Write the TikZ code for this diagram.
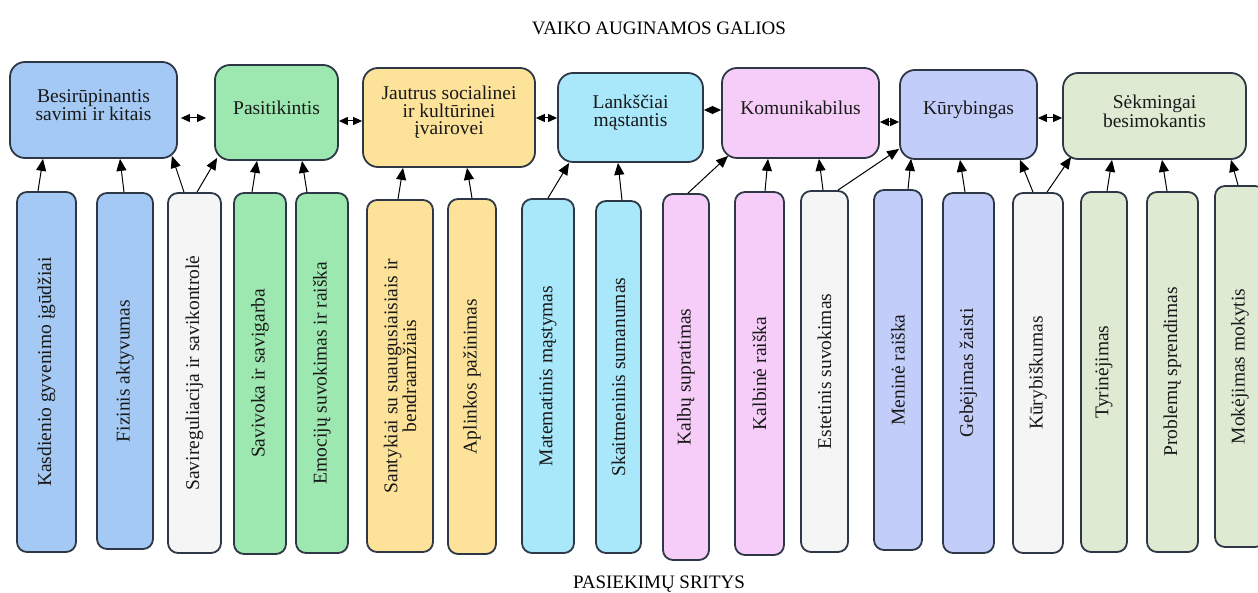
\documentclass[tikz,border=0pt]{standalone}
\usepackage{fontspec}
\setmainfont{Liberation Serif}
\usetikzlibrary{arrows.meta,calc}
\definecolor{cblue}{RGB}{164,201,244}
\definecolor{cgreen}{RGB}{157,232,176}
\definecolor{cyellow}{RGB}{253,226,154}
\definecolor{ccyan}{RGB}{168,232,250}
\definecolor{cpink}{RGB}{245,205,248}
\definecolor{cperi}{RGB}{195,205,250}
\definecolor{csage}{RGB}{223,234,211}
\definecolor{cgray}{RGB}{245,245,245}
\definecolor{edgec}{RGB}{45,55,70}
\newcommand\topb[7]{\node[topbox, fill=#6, minimum width=#4pt, minimum height=#5pt] (#1) at (#2,#3) {};
  \node[lbl] (#1l) at ([yshift=5pt]#1.center) {#7};}
\newcommand\botb[7]{\node[botbox, fill=#6, minimum width=#4pt, minimum height=#5pt] (#1) at (#2,#3) {};
  \node[vlbl] (#1l) at (#1.center) {#7};}
\begin{document}
\begin{tikzpicture}[x=1pt,y=-1pt,
  topbox/.style={draw=edgec, line width=1.8pt, rounded corners=15pt, inner sep=0pt},
  botbox/.style={draw=edgec, line width=1.8pt, rounded corners=10pt, inner sep=0pt},
  lbl/.style={font=\fontsize{19.5}{17.5}\selectfont, align=center, inner sep=0pt, text=black!90},
  vlbl/.style={lbl, rotate=90},
  arr/.style={-{Triangle[length=12pt,width=10pt]}, line width=1pt},
  darr/.style={{Triangle[length=9pt,width=8pt]}-{Triangle[length=9pt,width=8pt]}, line width=1pt},
  title/.style={font=\fontsize{19}{22}\selectfont, inner sep=0pt}]
\fill[white] (0,0) rectangle (1258,593);
\useasboundingbox (0,0) rectangle (1258,593);

\node[title] (ttop) at (659,28) {VAIKO AUGINAMOS GALIOS};
\node[title] (tbot) at (659,584) {PASIEKIMŲ SRITYS};

% top row
\topb{T1}{93.5}{110}{167}{96}{cblue}{Besirūpinantis\\savimi ir kitais}
\topb{T2}{276.5}{112.5}{123}{95}{cgreen}{Pasitikintis}
\topb{T3}{449}{117.5}{172}{99}{cyellow}{Jautrus socialinei\\ir kultūrinei\\įvairovei}
\topb{T4}{630.5}{117.5}{145}{89}{ccyan}{Lankščiai\\mąstantis}
\topb{T5}{800.5}{113}{157}{90}{cpink}{Komunikabilus}
\topb{T6}{968.5}{114.5}{137}{89}{cperi}{Kūrybingas}
\topb{T7}{1154.5}{116}{183}{86}{csage}{Sėkmingai\\besimokantis}

% bottom row
\botb{B1}{46.5}{372}{59}{360}{cblue}{Kasdienio gyvenimo įgūdžiai}
\botb{B2}{125}{371}{56}{356}{cblue}{Fizinis aktyvumas}
\botb{B3}{194.5}{373}{53}{360}{cgray}{Savireguliacija ir savikontrolė}
\botb{B4}{260}{373.5}{52}{361}{cgreen}{Savivoka ir savigarba}
\botb{B5}{322}{373}{52}{360}{cgreen}{Emocijų suvokimas ir raiška}
\botb{B6}{400}{376}{66}{352}{cyellow}{Santykiai su suaugusiaisiais ir\\bendraamžiais}
\botb{B7}{472}{376.5}{48}{355}{cyellow}{Aplinkos pažinimas}
\botb{B8}{548}{376}{52}{354}{ccyan}{Matematinis mąstymas}
\botb{B9}{618.5}{377}{45}{352}{ccyan}{Skaitmeninis sumanumas}
\botb{B10}{686}{377}{46}{366}{cpink}{Kalbų supratimas}
\botb{B11}{759.5}{373.5}{49}{363}{cpink}{Kalbinė raiška}
\botb{B12}{824.5}{371.5}{47}{361}{cgray}{Estetinis suvokimas}
\botb{B13}{898}{370}{48}{360}{cperi}{Meninė raiška}
\botb{B14}{968.5}{373}{51}{360}{cperi}{Gebėjimas žaisti}
\botb{B15}{1038}{373}{50}{360}{cgray}{Kūrybiškumas}
\botb{B16}{1104}{372}{46}{360}{csage}{Tyrinėjimas}
\botb{B17}{1172.5}{372}{51}{360}{csage}{Problemų sprendimas}
\botb{B18}{1240}{366.5}{50}{361}{csage}{Mokėjimas mokytis}

% vertical arrows
\draw[arr] ([xshift=-8.5pt]B1.north) -- ([xshift=-50.5pt]T1.south);
\draw[arr] ([xshift=-1pt]B2.north) -- ([xshift=26.5pt]T1.south);
\draw[arr] ([xshift=-10.5pt]B3.north) -- ($(T1.south east)+(-6,-3)$);
\draw[arr] ([xshift=2.5pt]B3.north) -- ($(T2.south west)+(3,-3)$);
\draw[arr] ([xshift=-8pt]B4.north) -- ([xshift=-19.5pt]T2.south);
\draw[arr] ([xshift=-15pt]B5.north) -- ([xshift=25.5pt]T2.south);
\draw[arr] ([xshift=-2pt]B6.north) -- ([xshift=-46pt]T3.south);
\draw[arr] (B7.north) -- ([xshift=18pt]T3.south);
\draw[arr] (B8.north) -- ($(T4.south west)+(12,0)$);
\draw[arr] ([xshift=3.5pt]B9.north) -- ([xshift=-12.5pt]T4.south);
\draw[arr] ([xshift=2pt]B10.north) -- ($(T5.south west)+(7,-3)$);
\draw[arr] ([xshift=5.5pt]B11.north) -- ([xshift=-32.5pt]T5.south);
\draw[arr] ([xshift=-1.5pt]B12.north) -- ([xshift=18.5pt]T5.south);
\draw[arr] ([xshift=13.5pt]B12.north) -- ($(T6.south west)+(0,-11)$);
\draw[arr] ([xshift=10pt]B13.north) -- ($(T6.south west)+(12,-1)$);
\draw[arr] ([xshift=-3.5pt]B14.north) -- ([xshift=-8.5pt]T6.south);
\draw[arr] ([xshift=-5pt]B15.north) -- ([xshift=51.5pt]T6.south);
\draw[arr] ([xshift=9pt]B15.north) -- ($(T7.south west)+(9,-3)$);
\draw[arr] ([xshift=3pt]B16.north) -- ([xshift=-42.5pt]T7.south);
\draw[arr] ([xshift=-5.5pt]B17.north) -- ([xshift=7.5pt]T7.south);
\draw[arr] ([xshift=-2pt]B18.north) -- ([xshift=76.5pt]T7.south);

% horizontal double arrows
\coordinate (h1) at ($(T1.east)+(0,8)$);
\coordinate (h2) at ($(T2.east)+(0,8.5)$);
\coordinate (h3) at ($(T3.east)+(0,0.5)$);
\coordinate (h4) at ($(T4.east)+(0,-7.5)$);
\coordinate (h5) at ($(T5.east)+(0,9)$);
\coordinate (h6) at ($(T6.east)+(0,3.5)$);
\draw[darr, shorten <=3pt, shorten >=8pt] (h1) -- (h1 -| T2.west);
\draw[darr] (h2) -- (h2 -| T3.west);
\draw[darr] (h3) -- (h3 -| T4.west);
\draw[darr] (h4) -- (h4 -| T5.west);
\draw[darr] (h5) -- (h5 -| T6.west);
\draw[darr] (h6) -- (h6 -| T7.west);
\end{tikzpicture}
\end{document}
